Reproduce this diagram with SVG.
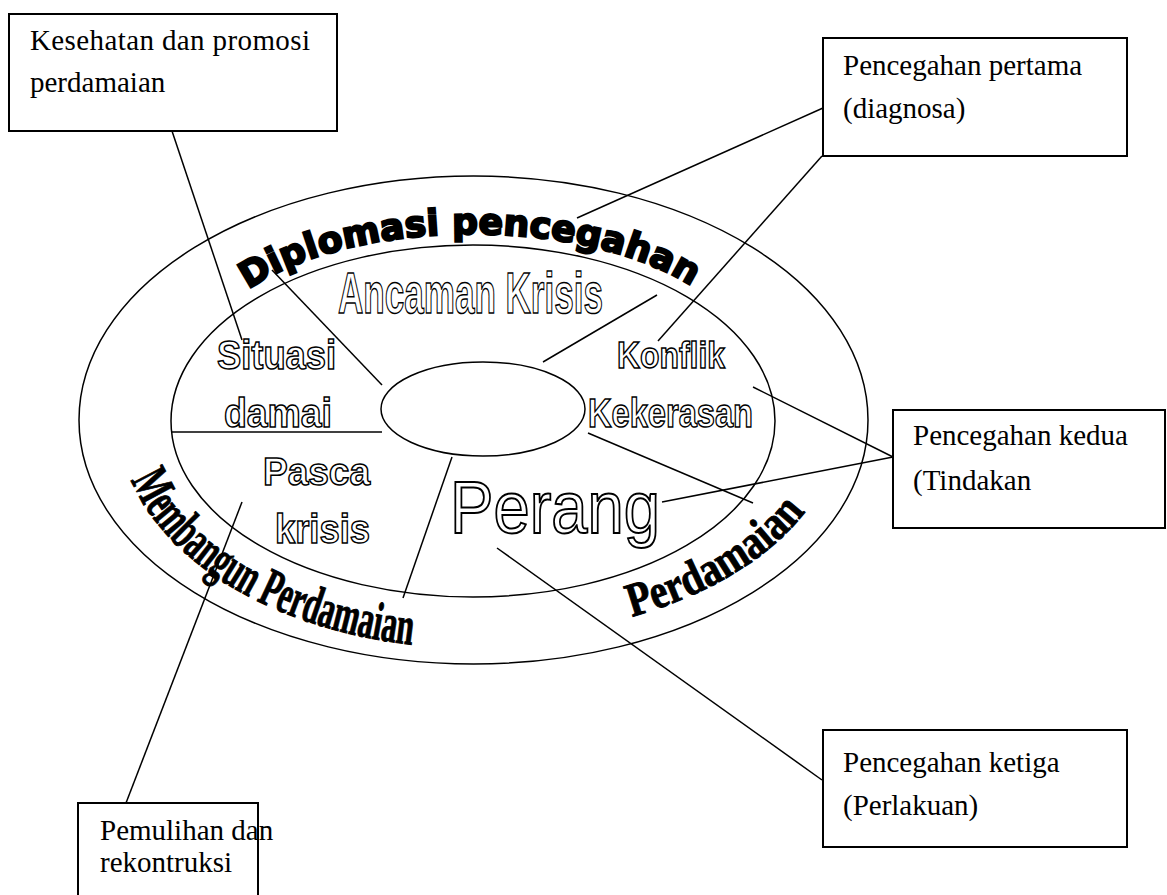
<svg xmlns="http://www.w3.org/2000/svg" width="1167" height="895" viewBox="0 0 1167 895">
<style>
.ln{stroke:#000;stroke-width:1.5;fill:none}
.box{fill:#fff;stroke:#000;stroke-width:2}
.bt{font-family:"Liberation Serif","Times New Roman",serif;font-size:29px;fill:#000}
.ol{font-family:"Liberation Sans",Arial,sans-serif;font-weight:bold;fill:#fff;stroke:#000;stroke-width:1.5}
.olr{font-family:"Liberation Sans",Arial,sans-serif;fill:#fff;stroke:#000;stroke-width:1.6}
.wa{font-family:"DejaVu Sans",sans-serif;font-weight:bold;fill:#000;stroke:#000;stroke-width:2.2}
.ws{font-family:"Liberation Serif","Times New Roman",serif;font-weight:bold;fill:#000;stroke:#000;stroke-width:1}
</style>
<defs>
<path id="arcTop" d="M 245,292 A 269.5,125 0 0,1 700,292"/>
<path id="arcLeft" d="M 131,480 A 355,228 0 0,0 415,645"/>
<path id="arcRight" d="M 632,617 A 365,218 0 0,0 805,512"/>
</defs>
<rect width="1167" height="895" fill="#fff"/>
<g id="rings">
<ellipse class="ln" cx="473.5" cy="420" rx="394.5" ry="244"/>
<ellipse class="ln" cx="473" cy="421" rx="302" ry="176"/>
<ellipse class="ln" cx="483" cy="409" rx="102" ry="47"/>
</g>
<g id="connectors">
<line class="ln" x1="172" y1="131" x2="242" y2="340"/>
<line class="ln" x1="272" y1="270" x2="382" y2="385"/>
<line class="ln" x1="543" y1="362" x2="657" y2="295"/>
<line class="ln" x1="823" y1="108" x2="577" y2="218"/>
<line class="ln" x1="822" y1="156" x2="658" y2="341"/>
<line class="ln" x1="753" y1="387" x2="893" y2="457"/>
<line class="ln" x1="662" y1="502" x2="893" y2="457"/>
<line class="ln" x1="588" y1="433" x2="753" y2="503"/>
<line class="ln" x1="497" y1="548" x2="822" y2="780"/>
<line class="ln" x1="242" y1="502" x2="126" y2="803"/>
<line class="ln" x1="452" y1="457" x2="403" y2="598"/>
<line class="ln" x1="171" y1="432" x2="382" y2="432"/>
</g>
<g id="band-labels">
<text class="wa" font-size="36"><textPath href="#arcTop" startOffset="4" textLength="462" lengthAdjust="spacingAndGlyphs">Diplomasi pencegahan</textPath></text>
<text class="ws" font-size="54"><textPath href="#arcLeft" textLength="340" lengthAdjust="spacingAndGlyphs">Membangun Perdamaian</textPath></text>
<text class="ws" font-size="48"><textPath href="#arcRight" textLength="206" lengthAdjust="spacingAndGlyphs">Perdamaian</textPath></text>
</g>
<g id="stage-labels">
<text class="ol" x="338" y="313" font-size="58" textLength="265" lengthAdjust="spacingAndGlyphs">Ancaman Krisis</text>
<text class="ol" x="617" y="368" font-size="36" textLength="108" lengthAdjust="spacingAndGlyphs">Konflik</text>
<text class="ol" x="588" y="427" font-size="40" textLength="165" lengthAdjust="spacingAndGlyphs">Kekerasan</text>
<text class="olr" x="450" y="533" font-size="74" textLength="210" lengthAdjust="spacingAndGlyphs" style="stroke-width:2">Perang</text>
<text class="ol" x="217" y="369" font-size="40" textLength="119" lengthAdjust="spacingAndGlyphs">Situasi</text>
<text class="ol" x="224" y="427" font-size="40" textLength="108" lengthAdjust="spacingAndGlyphs">damai</text>
<text class="ol" x="263" y="485" font-size="39" textLength="107" lengthAdjust="spacingAndGlyphs">Pasca</text>
<text class="ol" x="275" y="543" font-size="41" textLength="95" lengthAdjust="spacingAndGlyphs">krisis</text>
</g>
<g id="box-kesehatan">
<rect class="box" x="9" y="14" width="328" height="117"/>
<text class="bt" x="30" y="50" textLength="280" lengthAdjust="spacing">Kesehatan dan promosi</text>
<text class="bt" x="30" y="92">perdamaian</text>
</g>
<g id="box-pertama">
<rect class="box" x="823" y="38" width="304" height="118"/>
<text class="bt" x="843" y="75">Pencegahan pertama</text>
<text class="bt" x="843" y="118">(diagnosa)</text>
</g>
<g id="box-kedua">
<rect class="box" x="893" y="410" width="272" height="118"/>
<text class="bt" x="913" y="445">Pencegahan kedua</text>
<text class="bt" x="913" y="490">(Tindakan</text>
</g>
<g id="box-ketiga">
<rect class="box" x="823" y="730" width="304" height="117"/>
<text class="bt" x="843" y="772">Pencegahan ketiga</text>
<text class="bt" x="843" y="815">(Perlakuan)</text>
</g>
<g id="box-pemulihan">
<rect class="box" x="78" y="803" width="180" height="110"/>
<text class="bt" x="100" y="840" font-size="28">Pemulihan dan</text>
<text class="bt" x="100" y="872" font-size="28">rekontruksi</text>
</g>
</svg>
